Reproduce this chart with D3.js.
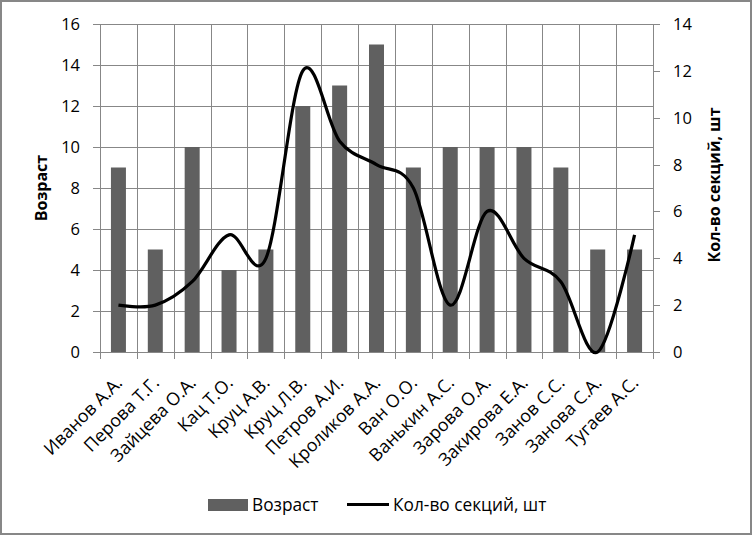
<!DOCTYPE html>
<html><head><meta charset="utf-8">
<script src="https://cdn.jsdelivr.net/npm/d3@7/dist/d3.min.js"></script>
<style>
body{margin:0;background:#fff;}
text{font-family:"Open Sans","Noto Sans",sans-serif;fill:#000;}
</style></head><body>
<svg id="c" width="753" height="536"></svg>
<script>
const categories = ["Иванов А.А.","Перова Т.Г.","Зайцева О.А.","Кац Т.О.","Круц А.В.","Круц Л.В.","Петров А.И.","Кроликов А.А.","Ван О.О.","Ванькин А.С.","Зарова О.А.","Закирова Е.А.","Занов С.С.","Занова С.А.","Тугаев А.С."];
const ageValues = [9,5,10,4,5,12,13,15,9,10,10,10,9,5,5];
const sectionValues = [2,2,3,5,4,12,9,8,7,2,6,4,3,0,5];
const leftTicks = [0,2,4,6,8,10,12,14,16];
const rightTicks = [0,2,4,6,8,10,12,14];
const seriesNames = ["Возраст","Кол-во секций, шт"];

const svg = d3.select("#c");
const grid = "#878787";
const L = 100, R = 653, T = 24, B = 352;

svg.append("rect").attr("x",1).attr("y",1).attr("width",750).attr("height",533)
  .attr("fill","#fff").attr("stroke",grid).attr("stroke-width",2);

const x = d3.scaleBand().domain(categories).range([L,R]).paddingInner(0).paddingOuter(0);
const yL = d3.scaleLinear().domain([0,16]).range([B,T]);
const yR = d3.scaleLinear().domain([0,14]).range([B,T]);

// horizontal gridlines
svg.append("g").selectAll("line").data(leftTicks).join("line")
  .attr("x1",L-7).attr("x2",R).attr("y1",d=>yL(d)+0.5).attr("y2",d=>yL(d)+0.5)
  .attr("stroke",grid).attr("stroke-width",1);
// vertical gridlines + ticks
const bounds = categories.map(c=>x(c)).concat([R]);
svg.append("g").selectAll("line").data(bounds).join("line")
  .attr("x1",d=>Math.round(d)+0.5).attr("x2",d=>Math.round(d)+0.5).attr("y1",T).attr("y2",B+7)
  .attr("stroke",grid).attr("stroke-width",1);
// right ticks
svg.append("g").selectAll("line").data(rightTicks).join("line")
  .attr("x1",R).attr("x2",R+7).attr("y1",d=>Math.round(yR(d))+0.5).attr("y2",d=>Math.round(yR(d))+0.5)
  .attr("stroke",grid).attr("stroke-width",1);

// bars
const bw = 15;
svg.append("g").selectAll("rect").data(ageValues).join("rect")
  .attr("x",(d,i)=>x(categories[i])+x.bandwidth()/2-bw/2)
  .attr("y",d=>yL(d)).attr("width",bw).attr("height",d=>B-yL(d))
  .attr("fill","#606060");

// line
const line = d3.line()
  .x((d,i)=>x(categories[i])+x.bandwidth()/2)
  .y(d=>yR(d))
  .curve(d3.curveCatmullRom.alpha(0));
svg.append("path").datum(sectionValues).attr("d",line)
  .attr("fill","none").attr("stroke","#000").attr("stroke-width",3.2).attr("stroke-linejoin","round");

// left tick labels
svg.append("g").selectAll("text").data(leftTicks).join("text")
  .attr("x",80).attr("y",d=>yL(d)).attr("dy","0.36em").attr("text-anchor","end")
  .style("font-size","16.5px").text(d=>d);
// right tick labels
svg.append("g").selectAll("text").data(rightTicks).join("text")
  .attr("x",673).attr("y",d=>yR(d)).attr("dy","0.36em").attr("text-anchor","start")
  .style("font-size","16.5px").text(d=>d);

// category labels
svg.append("g").selectAll("text").data(categories).join("text")
  .attr("transform",d=>`translate(${x(d)+x.bandwidth()/2+5},384) rotate(-45)`)
  .attr("text-anchor","end").style("font-size","17.8px").text(d=>d);

// axis titles
svg.append("text").attr("transform",`translate(47,${(T+B)/2}) rotate(-90)`)
  .attr("text-anchor","middle").style("font-size","16px").style("font-weight","bold").text(seriesNames[0]);
svg.append("text").attr("transform",`translate(720,${(T+B)/2-3}) rotate(-90)`)
  .attr("text-anchor","middle").style("font-size","16px").style("font-weight","bold").text(seriesNames[1]);

// legend
svg.append("rect").attr("x",208).attr("y",499).attr("width",40).attr("height",12).attr("fill","#606060");
svg.append("text").attr("x",252).attr("y",511).style("font-size","17.3px").text(seriesNames[0]);
svg.append("line").attr("x1",347).attr("x2",389).attr("y1",504.5).attr("y2",504.5).attr("stroke","#000").attr("stroke-width",3.2);
svg.append("text").attr("x",393).attr("y",511).style("font-size","17.3px").text(seriesNames[1]);
</script></body></html>
